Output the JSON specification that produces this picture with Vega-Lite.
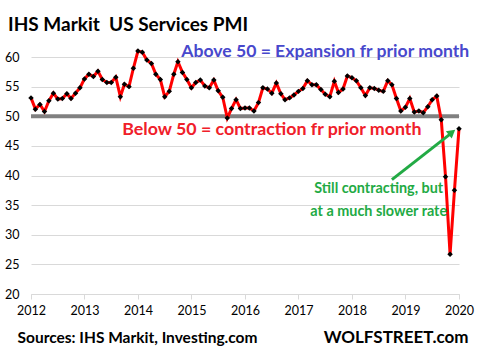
{
  "$schema": "https://vega.github.io/schema/vega-lite/v6.json",
  "width": 428,
  "height": 237,
  "autosize": "none",
  "padding": {"left": 31, "top": 57, "right": 19, "bottom": 58},
  "background": "white",
  "title": {
    "text": "IHS Markit\u00a0 US Services PMI",
    "anchor": "start",
    "frame": "group",
    "orient": "top",
    "baseline": "alphabetic",
    "dx": -23,
    "dy": 29,
    "offset": 22,
    "font": "Lato",
    "fontSize": 19,
    "fontWeight": "bold",
    "color": "#000000"
  },
  "config": {"view": {"stroke": null}},
  "encoding": {
    "x": {"field": "date", "type": "temporal",
      "scale": {"type": "utc", "domain": [{"year": 2012, "month": 6, "date": 1, "utc": true}, {"year": 2020, "month": 6, "date": 1, "utc": true}]},
      "axis": {
        "values": [
          {"year": 2012, "month": 6, "date": 1, "utc": true}, {"year": 2013, "month": 6, "date": 1, "utc": true},
          {"year": 2014, "month": 6, "date": 1, "utc": true}, {"year": 2015, "month": 6, "date": 1, "utc": true},
          {"year": 2016, "month": 6, "date": 1, "utc": true}, {"year": 2017, "month": 6, "date": 1, "utc": true},
          {"year": 2018, "month": 6, "date": 1, "utc": true}, {"year": 2019, "month": 6, "date": 1, "utc": true},
          {"year": 2020, "month": 6, "date": 1, "utc": true}
        ],
        "labelExpr": "utcFormat(datum.value, '%Y')",
        "grid": false, "domain": true, "domainColor": "#d9d9d9", "ticks": true, "tickColor": "#d9d9d9", "tickSize": 5,
        "labelFont": "Lato", "labelFontSize": 12.5, "labelColor": "#000000", "labelPadding": 5,
        "labelFlush": false, "labelOverlap": false,
        "title": "Sources: IHS Markit, Investing.com", "titleFont": "Lato", "titleFontSize": 15.5, "titleFontWeight": "bold",
        "titleColor": "#000000", "titleAnchor": "start", "titleAlign": "left", "titleBaseline": "alphabetic",
        "titleX": -14, "titleY": 48
      }
    },
    "y": {"field": "pmi", "type": "quantitative", "scale": {"domain": [20, 60], "nice": false, "zero": false},
      "axis": {
        "values": [20, 25, 30, 35, 40, 45, 50, 55, 60],
        "grid": true, "gridColor": "#d9d9d9", "gridWidth": 1,
        "domain": false, "ticks": false,
        "labelFont": "Lato", "labelFontSize": 12.5, "labelColor": "#000000", "labelPadding": 12,
        "title": "WOLFSTREET.com", "titleAngle": 0, "titleX": 437, "titleY": 285,
        "titleAlign": "right", "titleBaseline": "alphabetic",
        "titleFont": "Lato", "titleFontSize": 17, "titleFontWeight": "bold", "titleColor": "#000000"
      }
    }
  },
  "layer": [
    {
      "data": {"values": [{"date": "2012-06-01", "pmi": 50}, {"date": "2020-06-01", "pmi": 50}]},
      "mark": {"type": "line", "color": "#808080", "strokeWidth": 4}
    },
    {
      "data": {"values": [
        {"date": "2012-06-01", "pmi": 53.1}, {"date": "2012-07-01", "pmi": 51.2}, {"date": "2012-08-01", "pmi": 52.0},
        {"date": "2012-09-01", "pmi": 50.8}, {"date": "2012-10-01", "pmi": 52.6}, {"date": "2012-11-01", "pmi": 53.9},
        {"date": "2012-12-01", "pmi": 52.9}, {"date": "2013-01-01", "pmi": 53.0}, {"date": "2013-02-01", "pmi": 53.8},
        {"date": "2013-03-01", "pmi": 53.0}, {"date": "2013-04-01", "pmi": 53.9}, {"date": "2013-05-01", "pmi": 54.8},
        {"date": "2013-06-01", "pmi": 56.3}, {"date": "2013-07-01", "pmi": 57.1}, {"date": "2013-08-01", "pmi": 56.7},
        {"date": "2013-09-01", "pmi": 57.6}, {"date": "2013-10-01", "pmi": 56.2}, {"date": "2013-11-01", "pmi": 55.7},
        {"date": "2013-12-01", "pmi": 55.7}, {"date": "2014-01-01", "pmi": 56.6}, {"date": "2014-02-01", "pmi": 53.3},
        {"date": "2014-03-01", "pmi": 55.4}, {"date": "2014-04-01", "pmi": 55.0}, {"date": "2014-05-01", "pmi": 58.1},
        {"date": "2014-06-01", "pmi": 61.0}, {"date": "2014-07-01", "pmi": 60.8}, {"date": "2014-08-01", "pmi": 59.5},
        {"date": "2014-09-01", "pmi": 58.9}, {"date": "2014-10-01", "pmi": 57.1}, {"date": "2014-11-01", "pmi": 56.2},
        {"date": "2014-12-01", "pmi": 53.3}, {"date": "2015-01-01", "pmi": 54.2}, {"date": "2015-02-01", "pmi": 57.1},
        {"date": "2015-03-01", "pmi": 59.2}, {"date": "2015-04-01", "pmi": 57.4}, {"date": "2015-05-01", "pmi": 56.2},
        {"date": "2015-06-01", "pmi": 54.8}, {"date": "2015-07-01", "pmi": 55.7}, {"date": "2015-08-01", "pmi": 56.1},
        {"date": "2015-09-01", "pmi": 55.1}, {"date": "2015-10-01", "pmi": 54.8}, {"date": "2015-11-01", "pmi": 56.1},
        {"date": "2015-12-01", "pmi": 54.3}, {"date": "2016-01-01", "pmi": 53.2}, {"date": "2016-02-01", "pmi": 49.7},
        {"date": "2016-03-01", "pmi": 51.3}, {"date": "2016-04-01", "pmi": 52.8}, {"date": "2016-05-01", "pmi": 51.3},
        {"date": "2016-06-01", "pmi": 51.4}, {"date": "2016-07-01", "pmi": 51.4}, {"date": "2016-08-01", "pmi": 50.9},
        {"date": "2016-09-01", "pmi": 52.3}, {"date": "2016-10-01", "pmi": 54.8}, {"date": "2016-11-01", "pmi": 54.6},
        {"date": "2016-12-01", "pmi": 53.9}, {"date": "2017-01-01", "pmi": 55.6}, {"date": "2017-02-01", "pmi": 53.8},
        {"date": "2017-03-01", "pmi": 52.8}, {"date": "2017-04-01", "pmi": 53.1}, {"date": "2017-05-01", "pmi": 53.6},
        {"date": "2017-06-01", "pmi": 54.2}, {"date": "2017-07-01", "pmi": 54.7}, {"date": "2017-08-01", "pmi": 56.0},
        {"date": "2017-09-01", "pmi": 55.3}, {"date": "2017-10-01", "pmi": 55.3}, {"date": "2017-11-01", "pmi": 54.5},
        {"date": "2017-12-01", "pmi": 53.7}, {"date": "2018-01-01", "pmi": 53.3}, {"date": "2018-02-01", "pmi": 55.9},
        {"date": "2018-03-01", "pmi": 54.0}, {"date": "2018-04-01", "pmi": 54.6}, {"date": "2018-05-01", "pmi": 56.8},
        {"date": "2018-06-01", "pmi": 56.5}, {"date": "2018-07-01", "pmi": 56.0}, {"date": "2018-08-01", "pmi": 54.8},
        {"date": "2018-09-01", "pmi": 53.5}, {"date": "2018-10-01", "pmi": 54.8}, {"date": "2018-11-01", "pmi": 54.7},
        {"date": "2018-12-01", "pmi": 54.4}, {"date": "2019-01-01", "pmi": 54.2}, {"date": "2019-02-01", "pmi": 56.0},
        {"date": "2019-03-01", "pmi": 55.3}, {"date": "2019-04-01", "pmi": 53.0}, {"date": "2019-05-01", "pmi": 50.9},
        {"date": "2019-06-01", "pmi": 51.5}, {"date": "2019-07-01", "pmi": 53.0}, {"date": "2019-08-01", "pmi": 50.7},
        {"date": "2019-09-01", "pmi": 50.9}, {"date": "2019-10-01", "pmi": 50.6}, {"date": "2019-11-01", "pmi": 51.6},
        {"date": "2019-12-01", "pmi": 52.8}, {"date": "2020-01-01", "pmi": 53.4}, {"date": "2020-02-01", "pmi": 49.4},
        {"date": "2020-03-01", "pmi": 39.8}, {"date": "2020-04-01", "pmi": 26.7}, {"date": "2020-05-01", "pmi": 37.5},
        {"date": "2020-06-01", "pmi": 47.9}
      ]},
      "layer": [
        {"mark": {"type": "line", "color": "#ff0000", "strokeWidth": 3}},
        {"mark": {"type": "point", "shape": "diamond", "filled": true, "color": "#000000", "size": 30, "opacity": 1}}
      ]
    },
    {
      "data": {"values": [{"date": "2017-12-01", "pmi": 60.8, "note": "Above 50 = Expansion fr prior month"}]},
      "mark": {"type": "text", "font": "Lato", "fontSize": 17.6, "fontWeight": "bold", "color": "#4848cc", "align": "center", "baseline": "middle"},
      "encoding": {"text": {"field": "note"}}
    },
    {
      "data": {"values": [{"date": "2016-12-01", "pmi": 47.7, "note": "Below 50 = contraction fr prior month"}]},
      "mark": {"type": "text", "font": "Lato", "fontSize": 17.8, "fontWeight": "bold", "color": "#f0202a", "align": "center", "baseline": "middle"},
      "encoding": {"text": {"field": "note"}}
    },
    {
      "data": {"values": [
        {"date": "2018-12-01", "pmi": 37.7, "note": "Still contracting, but"},
        {"date": "2018-12-01", "pmi": 33.9, "note": "at a much slower rate"}
      ]},
      "mark": {"type": "text", "font": "Lato", "fontSize": 14.4, "fontWeight": "bold", "color": "#22aa44", "align": "center", "baseline": "middle"},
      "encoding": {"text": {"field": "note"}}
    },
    {
      "data": {"values": [{"date": "2019-03-01", "pmi": 39.3, "date2": "2020-04-12", "pmi2": 47.2}]},
      "mark": {"type": "rule", "color": "#22aa44", "strokeWidth": 3},
      "encoding": {"x2": {"field": "date2"}, "y2": {"field": "pmi2"}}
    },
    {
      "data": {"values": [{"date": "2020-04-14", "pmi": 47.3}]},
      "mark": {"type": "point", "shape": "triangle-up", "filled": true, "color": "#22aa44", "size": 90, "angle": 51, "opacity": 1}
    }
  ]
}
